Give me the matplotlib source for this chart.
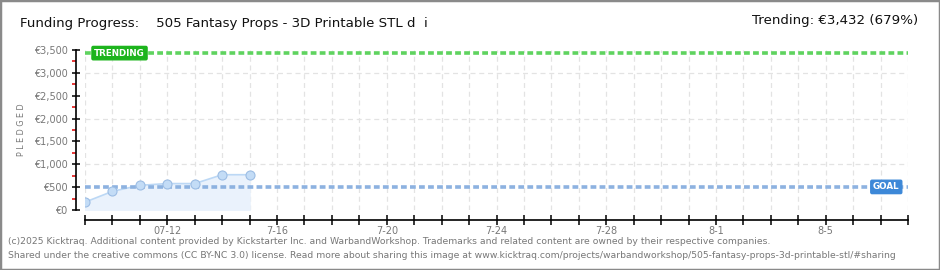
import matplotlib
matplotlib.use("Agg")
import matplotlib.pyplot as plt
import pandas as pd
from matplotlib.patches import Rectangle

# Data
dates = ["2025-07-09", "2025-07-10", "2025-07-11", "2025-07-12",
         "2025-07-13", "2025-07-14", "2025-07-15"]
pledged = [172, 408, 540, 578, 578, 772, 772]

goal = 505
trending = 3432
trend_pct = 679

x_start = "2025-07-09"
x_end = "2025-08-08"
tick_dates = ["2025-07-12", "2025-07-16", "2025-07-20", "2025-07-24",
              "2025-07-28", "2025-08-01", "2025-08-05"]
tick_labels = ["07-12", "7-16", "7-20", "7-24", "7-28", "8-1", "8-5"]
y_ticks = [0, 500, 1000, 1500, 2000, 2500, 3000, 3500]
y_labels = ["€0", "€500", "€1,000", "€1,500", "€2,000", "€2,500", "€3,000", "€3,500"]

title = "Funding Progress:    505 Fantasy Props - 3D Printable STL d  i"
footer1 = ("(c)2025 Kicktraq. Additional content provided by Kickstarter Inc. and WarbandWorkshop. "
           "Trademarks and related content are owned by their respective companies.")
footer2 = ("Shared under the creative commons (CC BY-NC 3.0) license. Read more about sharing this image at "
           "www.kicktraq.com/projects/warbandworkshop/505-fantasy-props-3d-printable-stl/#sharing")

narrow = ["Liberation Sans Narrow", "DejaVu Sans"]

W, H = 940, 270
fig = plt.figure(figsize=(W / 100, H / 100), dpi=100)
fig.patch.set_facecolor("white")

# outer frame
fig.add_artist(Rectangle((0, 0), 1, 1, transform=fig.transFigure, fill=False,
                         edgecolor="#8a8a8a", linewidth=2.5))

ax = fig.add_axes([85 / W, (H - 210) / H, (908 - 85) / W, (210 - 50) / H])
ax.set_facecolor("none")

x = pd.to_datetime(dates)
x0 = pd.Timestamp(x_start)
x1 = pd.Timestamp(x_end)

ax.set_xlim(x0, x1)
ax.set_ylim(0, 3500)

# grid: daily verticals, horizontals every 1000
for d in pd.date_range(x0, x1, freq="D"):
    ax.axvline(d, color="#e3e3e3", linestyle=(0, (4, 3)), linewidth=0.9, zorder=0)
for v in [1000, 2000, 3000]:
    ax.axhline(v, color="#e3e3e3", linestyle=(0, (4, 3)), linewidth=0.9, zorder=0)

# pledged area
ax.fill_between(x, pledged, 0, color="#eaf2fc", zorder=1)
ax.plot(x, pledged, color="#bcd8f5", linewidth=1.2, zorder=2)
ax.plot(x, pledged, linestyle="none", marker="o", markersize=6.5,
        markerfacecolor="#c3dcf6", markeredgecolor="#9cbde4", markeredgewidth=0.8, zorder=4)

# goal and trending lines
ax.axhline(goal, color="#8db2e0", linestyle=(0, (1.6, 0.9)), linewidth=2.6, zorder=3)
ax.axhline(trending, color="#5fd35f", linestyle=(0, (1.6, 0.9)), linewidth=2.6, zorder=3)

ax.text(pd.Timestamp("2025-07-09 08:00"), trending, "TRENDING", color="white",
        fontsize=6.3, fontweight="bold", ha="left", va="center", zorder=6,
        bbox=dict(boxstyle="round,pad=0.25,rounding_size=0.15",
                  facecolor="#1db41d", edgecolor="#1db41d"))
ax.text(pd.Timestamp("2025-08-07 05:00"), goal, "GOAL", color="white",
        fontsize=6.3, fontweight="bold", ha="center", va="center", zorder=6,
        bbox=dict(boxstyle="round,pad=0.25,rounding_size=0.15",
                  facecolor="#3d88d8", edgecolor="#3d88d8"))

# axes styling
for s in ["top", "right"]:
    ax.spines[s].set_visible(False)
ax.spines["left"].set_position(("outward", 6.5))
ax.spines["bottom"].set_position(("outward", 7.2))
ax.spines["left"].set_linewidth(1.2)
ax.spines["bottom"].set_linewidth(1.2)

ax.set_yticks(y_ticks)
ax.set_yticklabels(y_labels)
ax.set_yticks([250 + 500 * i for i in range(7)], minor=True)
ax.tick_params(axis="y", which="major", direction="inout", length=6, width=1.1,
               labelsize=7, labelcolor="#777777", pad=3)
ax.tick_params(axis="y", which="minor", direction="out", length=3, width=1.1,
               color="#e00000")

ax.set_xticks(pd.date_range(x0, x1, freq="D"), minor=True)
ax.set_xticks(pd.to_datetime(tick_dates))
ax.set_xticklabels(tick_labels)
ax.tick_params(axis="x", which="both", direction="inout", length=7, width=1.1,
               labelsize=7, labelcolor="#777777", pad=1)

fig.text(22 / W, 1 - 130 / H, "P L E D G E D", rotation=90, fontsize=5.8,
         color="#777777", ha="center", va="center")

# title and trending text
fig.text(20 / W, 1 - 23 / H, title, fontsize=9.6, color="#111111",
         family=narrow, ha="left", va="center")
fig.text(918 / W, 1 - 21 / H, f"Trending: €{trending:,} ({trend_pct}%)", fontsize=9.6,
         color="#111111", family=narrow, ha="right", va="center")

# footer
fig.text(8 / W, 1 - 242 / H, footer1, fontsize=6.7, color="#777777",
         family=narrow, ha="left", va="center")
fig.text(8 / W, 1 - 256 / H, footer2, fontsize=6.7, color="#777777",
         family=narrow, ha="left", va="center")

fig.savefig("out.png", dpi=100)
